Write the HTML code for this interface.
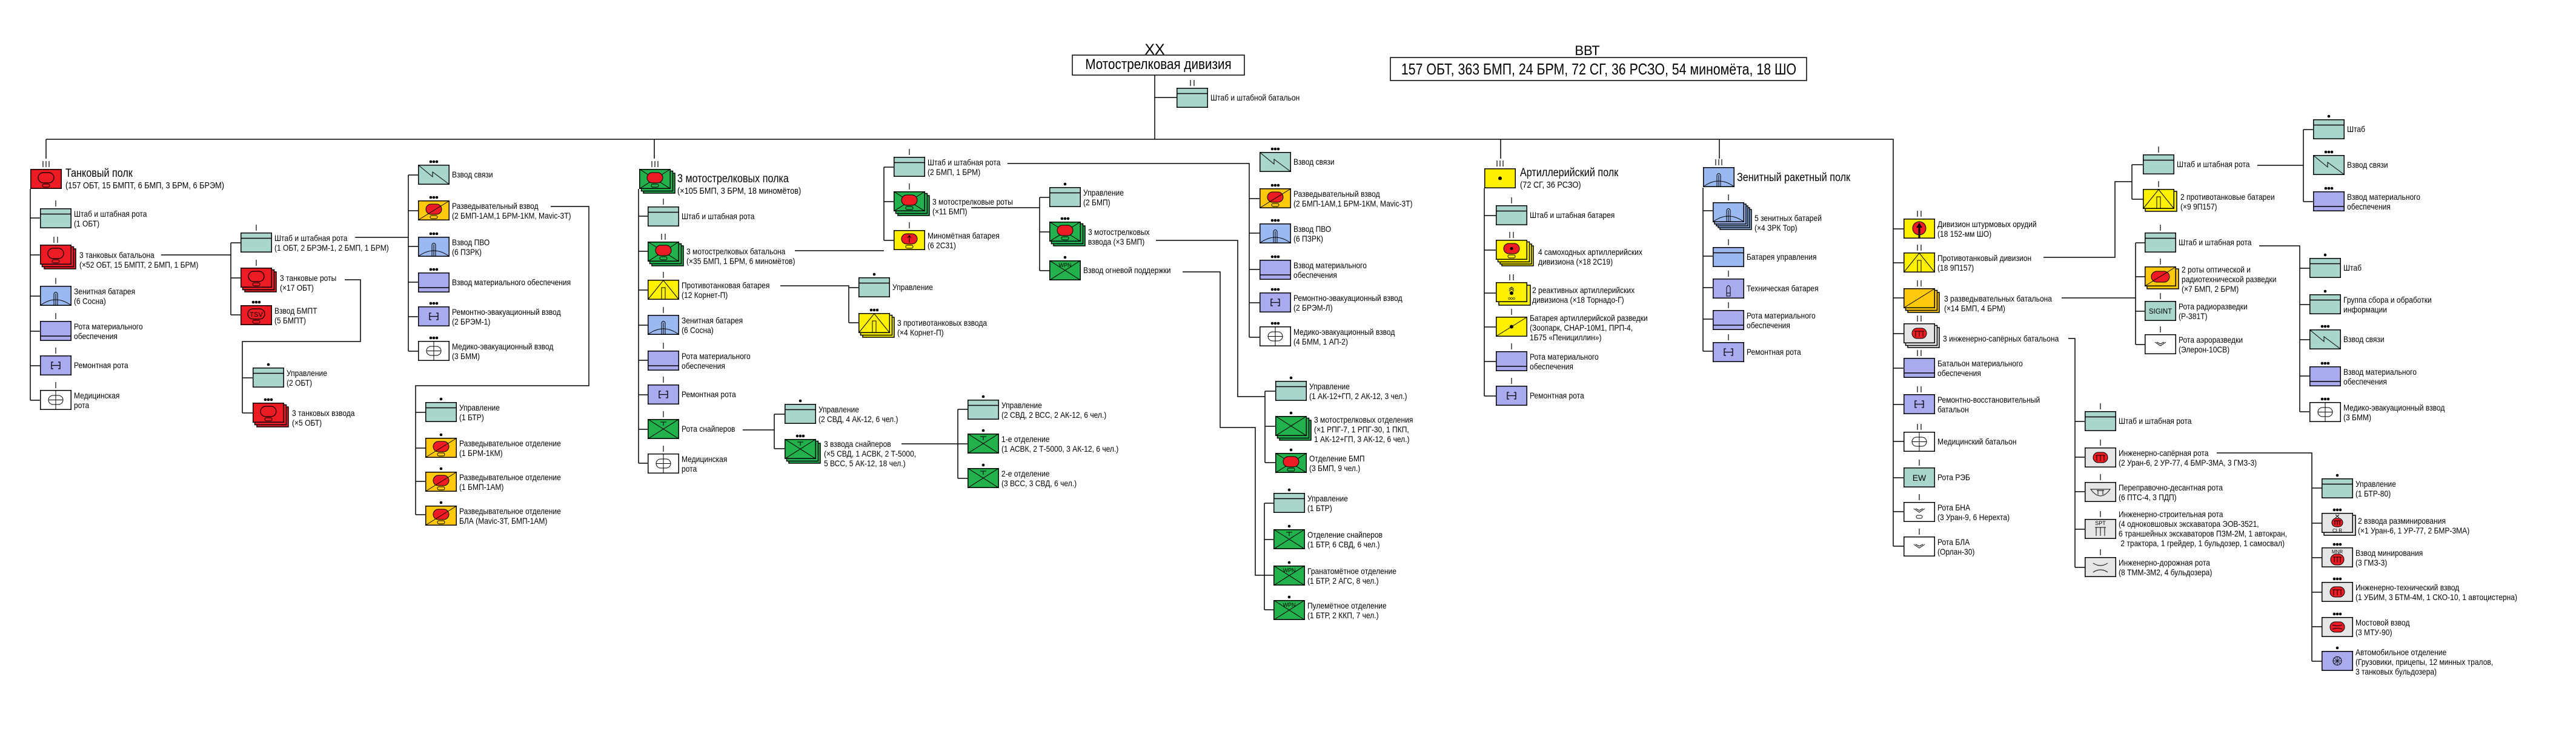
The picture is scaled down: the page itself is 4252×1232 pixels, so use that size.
<!DOCTYPE html>
<html><head><meta charset="utf-8"><style>
body{margin:0;background:#fff;}
#w{position:relative;width:4252px;height:1232px;overflow:hidden;background:#fff;font-family:"Liberation Sans","DejaVu Sans",sans-serif;color:#000;}
svg{position:absolute;left:0;top:0;}
.l{position:absolute;font-size:14px;line-height:16px;white-space:nowrap;transform:scaleX(.86);transform-origin:0 0;}
.t{position:absolute;font-size:19px;line-height:19px;white-space:nowrap;transform:scaleX(.85);transform-origin:0 0;}
.t span{font-size:15px;}
.c{position:absolute;text-align:center;white-space:nowrap;}
.cs{position:absolute;left:50%;top:0;white-space:nowrap;}
</style></head><body><div id="w">
<svg width="4252" height="1232" viewBox="0 0 4252 1232" xmlns="http://www.w3.org/2000/svg" font-family="Liberation Sans, sans-serif">
<defs>
<symbol id="hq" viewBox="0 0 52 33"><rect x=".75" y=".75" width="50.5" height="31.5" fill="#a8d5cc" stroke="#000" stroke-width="1.5"/><path d="M0 9.5H52" stroke="#000" stroke-width="1.5"/></symbol>
<symbol id="adhq" viewBox="0 0 52 33"><rect x=".75" y=".75" width="50.5" height="31.5" fill="#99b9f0" stroke="#000" stroke-width="1.5"/><path d="M0 9.5H52" stroke="#000" stroke-width="1.5"/></symbol>
<symbol id="sig" viewBox="0 0 52 33"><rect x=".75" y=".75" width="50.5" height="31.5" fill="#a8d5cc" stroke="#000" stroke-width="1.5"/><path d="M1 1L24 20V12L51 32" fill="none" stroke="#000"/></symbol>
<symbol id="tank" viewBox="0 0 52 33"><rect x=".75" y=".75" width="50.5" height="31.5" fill="#ed1c24" stroke="#000" stroke-width="1.5"/><rect x="13" y="6" width="26" height="17" rx="8.5" fill="none" stroke="#000" stroke-width="1.2"/><rect x="20" y="25" width="12" height="5" rx="2.5" fill="none" stroke="#000"/></symbol>
<symbol id="tsv" viewBox="0 0 52 33"><rect x=".75" y=".75" width="50.5" height="31.5" fill="#ed1c24" stroke="#000" stroke-width="1.5"/><rect x="12" y="6" width="28" height="17" rx="8.5" fill="none" stroke="#000" stroke-width="1.2"/><rect x="20" y="25" width="12" height="5" rx="2.5" fill="none" stroke="#000"/><text x="26" y="19" font-size="11" text-anchor="middle">TSV</text></symbol>
<symbol id="recon" viewBox="0 0 52 33"><rect x=".75" y=".75" width="50.5" height="31.5" fill="#ffc90e" stroke="#000" stroke-width="1.5"/><rect x="13" y="6" width="26" height="17" rx="8.5" fill="#ed1c24" stroke="#000"/><rect x="20" y="25" width="12" height="5" rx="2.5" fill="none" stroke="#000"/><path d="M1 32L51 1" stroke="#000"/></symbol>
<symbol id="recono" viewBox="0 0 52 33"><rect x=".75" y=".75" width="50.5" height="31.5" fill="#ffc90e" stroke="#000" stroke-width="1.5"/><rect x="11" y="8" width="30" height="18" rx="9" fill="#ed1c24" stroke="#000"/><path d="M1 32L51 1" stroke="#000"/></symbol>
<symbol id="reconp" viewBox="0 0 52 33"><rect x=".75" y=".75" width="50.5" height="31.5" fill="#ffc90e" stroke="#000" stroke-width="1.5"/><path d="M1 32L51 1" stroke="#000"/></symbol>
<symbol id="ad" viewBox="0 0 52 33"><rect x=".75" y=".75" width="50.5" height="31.5" fill="#99b9f0" stroke="#000" stroke-width="1.5"/><path d="M1 32Q26 14 51 32" fill="none" stroke="#000"/><path d="M23 32V13Q26 8 29 13V32M26 13V32" fill="none" stroke="#000"/></symbol>
<symbol id="sup" viewBox="0 0 52 33"><rect x=".75" y=".75" width="50.5" height="31.5" fill="#aaaaee" stroke="#000" stroke-width="1.5"/><path d="M0 25H52" stroke="#000" stroke-width="1.5"/></symbol>
<symbol id="rep" viewBox="0 0 52 33"><rect x=".75" y=".75" width="50.5" height="31.5" fill="#aaaaee" stroke="#000" stroke-width="1.5"/><path d="M22 11h-3v11h3M19 16.5h14M30 11h3v11h-3" fill="none" stroke="#000" stroke-width="1.3"/></symbol>
<symbol id="tech" viewBox="0 0 52 33"><rect x=".75" y=".75" width="50.5" height="31.5" fill="#aaaaee" stroke="#000" stroke-width="1.5"/><path d="M23 29V15Q26 8 29 15V29ZM23 24H29" fill="none" stroke="#000"/></symbol>
<symbol id="truck" viewBox="0 0 52 33"><rect x=".75" y=".75" width="50.5" height="31.5" fill="#aaaaee" stroke="#000" stroke-width="1.5"/><circle cx="26" cy="16.5" r="7" fill="none" stroke="#000"/><path d="M26 9.5V23.5M19 16.5H33M21 11.5L31 21.5M31 11.5L21 21.5" stroke="#000" stroke-width=".8"/></symbol>
<symbol id="med" viewBox="0 0 52 33"><rect x=".75" y=".75" width="50.5" height="31.5" fill="#fff" stroke="#000" stroke-width="1.5"/><path d="M26 0V33M14 16.5H38" stroke="#000"/><rect x="14" y="9" width="24" height="15" rx="7.5" fill="none" stroke="#000"/></symbol>
<symbol id="mr" viewBox="0 0 52 33"><rect x=".75" y=".75" width="50.5" height="31.5" fill="#22b14c" stroke="#000" stroke-width="1.5"/><path d="M0 0L52 33M52 0L0 33" stroke="#000"/><rect x="13" y="6" width="26" height="17" rx="8.5" fill="#ed1c24" stroke="#000"/><rect x="20" y="25" width="12" height="5" rx="2.5" fill="none" stroke="#000"/></symbol>
<symbol id="inf" viewBox="0 0 52 33"><rect x=".75" y=".75" width="50.5" height="31.5" fill="#22b14c" stroke="#000" stroke-width="1.5"/><path d="M0 0L52 33M52 0L0 33" stroke="#000"/></symbol>
<symbol id="snip" viewBox="0 0 52 33"><rect x=".75" y=".75" width="50.5" height="31.5" fill="#22b14c" stroke="#000" stroke-width="1.5"/><path d="M0 0L52 33M52 0L0 33M21 5H31M26 5V11" stroke="#000"/></symbol>
<symbol id="wpn" viewBox="0 0 52 33"><rect x=".75" y=".75" width="50.5" height="31.5" fill="#22b14c" stroke="#000" stroke-width="1.5"/><path d="M0 0L52 33M52 0L0 33" stroke="#000"/><text x="26" y="11" font-size="9" text-anchor="middle">WPN</text></symbol>
<symbol id="at" viewBox="0 0 52 33"><rect x=".75" y=".75" width="50.5" height="31.5" fill="#fff200" stroke="#000" stroke-width="1.5"/><path d="M1 32L26 1L51 32" fill="none" stroke="#000"/><rect x="23" y="13" width="6" height="19" fill="none" stroke="#000"/></symbol>
<symbol id="mort" viewBox="0 0 52 33"><rect x=".75" y=".75" width="50.5" height="31.5" fill="#fff200" stroke="#000" stroke-width="1.5"/><rect x="13" y="6" width="26" height="17" rx="8.5" fill="#ed1c24" stroke="#000"/><path d="M26 21V10M23 13L26 9L29 13" stroke="#000" fill="none"/><rect x="20" y="25" width="12" height="5" rx="2.5" fill="none" stroke="#000"/></symbol>
<symbol id="art" viewBox="0 0 52 33"><rect x=".75" y=".75" width="50.5" height="31.5" fill="#fff200" stroke="#000" stroke-width="1.5"/><circle cx="26" cy="16.5" r="3"/></symbol>
<symbol id="spart" viewBox="0 0 52 33"><rect x=".75" y=".75" width="50.5" height="31.5" fill="#fff200" stroke="#000" stroke-width="1.5"/><rect x="13" y="6" width="26" height="17" rx="8.5" fill="#ed1c24" stroke="#000"/><circle cx="26" cy="14.5" r="2.5"/><rect x="20" y="25" width="12" height="5" rx="2.5" fill="none" stroke="#000"/></symbol>
<symbol id="mlrs" viewBox="0 0 52 33"><rect x=".75" y=".75" width="50.5" height="31.5" fill="#fff200" stroke="#000" stroke-width="1.5"/><path d="M22 12L26 8L30 12M22 15L26 11L30 15" fill="none" stroke="#000"/><circle cx="26" cy="18" r="3"/><text x="26" y="29" font-size="7" text-anchor="middle">ooo</text></symbol>
<symbol id="artrec" viewBox="0 0 52 33"><rect x=".75" y=".75" width="50.5" height="31.5" fill="#fff200" stroke="#000" stroke-width="1.5"/><path d="M1 32L51 1" stroke="#000"/><circle cx="26" cy="16.5" r="3"/></symbol>
<symbol id="ag" viewBox="0 0 52 33"><rect x=".75" y=".75" width="50.5" height="31.5" fill="#fff200" stroke="#000" stroke-width="1.5"/><circle cx="26" cy="16" r="11" fill="#ed1c24" stroke="#000"/><path d="M26 32V13" stroke="#000" stroke-width="3"/><path d="M21 15L26 7L31 15Z"/></symbol>
<symbol id="eng" viewBox="0 0 52 33"><rect x=".75" y=".75" width="50.5" height="31.5" fill="#e6e6e6" stroke="#000" stroke-width="1.5"/><rect x="14" y="8" width="24" height="17" rx="8.5" fill="#ed1c24" stroke="#000"/><path d="M18 13H34M20 13V22M26 13V22M32 13V22" fill="none" stroke="#000"/></symbol>
<symbol id="clr" viewBox="0 0 52 33"><rect x=".75" y=".75" width="50.5" height="31.5" fill="#e6e6e6" stroke="#000" stroke-width="1.5"/><rect x="17" y="9" width="18" height="14" rx="7" fill="#ed1c24" stroke="#000"/><path d="M20 13H32M22 13V20M26 13V20M30 13V20M23 3L29 8M29 3L23 8" fill="none" stroke="#000"/><text x="26" y="32" font-size="8" text-anchor="middle">CLR</text></symbol>
<symbol id="mnr" viewBox="0 0 52 33"><rect x=".75" y=".75" width="50.5" height="31.5" fill="#e6e6e6" stroke="#000" stroke-width="1.5"/><rect x="15" y="11" width="22" height="18" rx="9" fill="#ed1c24" stroke="#000"/><path d="M19 16H33M21 16V25M26 16V25M31 16V25" fill="none" stroke="#000"/><text x="26" y="10" font-size="8" text-anchor="middle">MNR</text></symbol>
<symbol id="bridge" viewBox="0 0 52 33"><rect x=".75" y=".75" width="50.5" height="31.5" fill="#e6e6e6" stroke="#000" stroke-width="1.5"/><rect x="14" y="8" width="24" height="17" rx="8.5" fill="#ed1c24" stroke="#000"/><path d="M18 13Q26 16 34 13M18 20Q26 17 34 20" fill="none" stroke="#000"/></symbol>
<symbol id="ferry" viewBox="0 0 52 33"><rect x=".75" y=".75" width="50.5" height="31.5" fill="#e6e6e6" stroke="#000" stroke-width="1.5"/><path d="M10 12Q26 34 42 12Z" fill="none" stroke="#000"/><path d="M20 14H32M22 14V21M30 14V21" stroke="#000" fill="none"/></symbol>
<symbol id="spt" viewBox="0 0 52 33"><rect x=".75" y=".75" width="50.5" height="31.5" fill="#e6e6e6" stroke="#000" stroke-width="1.5"/><text x="26" y="10" font-size="9" text-anchor="middle">SPT</text><path d="M17 14H35M19 14V28M26 14V28M33 14V28" fill="none" stroke="#000"/></symbol>
<symbol id="road" viewBox="0 0 52 33"><rect x=".75" y=".75" width="50.5" height="31.5" fill="#e6e6e6" stroke="#000" stroke-width="1.5"/><path d="M14 10Q26 18 38 10M14 25Q26 17 38 25" fill="none" stroke="#000"/></symbol>
<symbol id="ew" viewBox="0 0 52 33"><rect x=".75" y=".75" width="50.5" height="31.5" fill="#a8d5cc" stroke="#000" stroke-width="1.5"/><text x="26" y="22" font-size="14" text-anchor="middle">EW</text></symbol>
<symbol id="sigint" viewBox="0 0 52 33"><rect x=".75" y=".75" width="50.5" height="31.5" fill="#a8d5cc" stroke="#000" stroke-width="1.5"/><text x="26" y="21" font-size="11.5" text-anchor="middle">SIGINT</text></symbol>
<symbol id="uav" viewBox="0 0 52 33"><rect x=".75" y=".75" width="50.5" height="31.5" fill="#fff" stroke="#000" stroke-width="1.5"/><path d="M17 13L26 19L35 13M20 13L26 16L32 13" fill="none" stroke="#000"/></symbol>
<symbol id="ugv" viewBox="0 0 52 33"><rect x=".75" y=".75" width="50.5" height="31.5" fill="#fff" stroke="#000" stroke-width="1.5"/><path d="M17 11L26 17L35 11M20 11L26 14L32 11" fill="none" stroke="#000"/><rect x="21" y="22" width="10" height="5" rx="2.5" fill="none" stroke="#000"/></symbol>
</defs>

<rect x="1770" y="91" width="284" height="33" fill="#fff" stroke="#000" stroke-width="1.5"/>
<rect x="2295" y="95" width="687" height="38" fill="#fff" stroke="#000" stroke-width="1.5"/>

<g fill="none" stroke="#000" stroke-width="1.5">
<path d="M1906 124V230M1906 161H1942M76 230H3125V902M76 230V262M1080 230V262M2477 230V262M2838 230V262"/>
<path d="M50 312V661M50 360H66M50 421H66M50 489H66M50 547H66M50 604H66M50 661H66"/>
<path d="M266 421H381M381 401V520M381 401H397M381 459H397M381 520H397"/>
<path d="M586 392H674M674 289V580M674 289H690M674 348H690M674 407H690M674 466H690M674 523H690M674 580H690"/>
<path d="M569 462H595V564H400V682M400 624H417M400 682H417"/>
<path d="M909 341H972V637H686V850M686 681H702M686 740H702M686 795H702M686 850H702"/>
<path d="M1054 312V765M1054 357H1069M1054 415H1069M1054 479H1069M1054 537H1069M1054 595H1069M1054 652H1069M1054 709H1069M1054 765H1069"/>
<path d="M1312 414H1459M1459 276V397M1459 276H1475M1459 333H1475M1459 397H1475"/>
<path d="M1288 472H1401V533M1401 475H1417M1401 533H1417"/>
<path d="M1226 710H1278M1278 684V741M1278 684H1295M1278 741H1295"/>
<path d="M1488 733H1581M1581 676V790M1581 676H1597M1581 733H1597M1581 790H1597"/>
<path d="M1663 270H2062V557M2062 328H2079M2062 385H2079M2062 445H2079M2062 500H2079M2062 557H2079"/>
<path d="M1603 343H1716M1716 326V447M1716 326H1732M1716 383H1732M1716 447H1732"/>
<path d="M1908 397H2043V655H2088M2088 646V764M2088 646H2105M2088 704H2105M2088 764H2105"/>
<path d="M1952 449H2014V706H2072V950H2087M2087 831V1007M2087 831H2102M2087 891H2102M2087 950H2102M2087 1007H2102"/>
<path d="M2450 311V654M2450 356H2469M2450 413H2469M2450 484H2469M2450 540H2469M2450 597H2469M2450 654H2469"/>
<path d="M2811 310V580M2811 348H2827M2811 423H2827M2811 475H2827M2811 527H2827M2811 580H2827"/>
<path d="M3125 378H3142M3125 434H3142M3125 492H3142M3125 551H3142M3125 608H3142M3125 668H3142M3125 729H3142M3125 789H3142M3125 845H3142M3125 902H3142"/>
<path d="M3373 425H3491V300H3519M3519 272V329M3519 272H3537M3519 329H3537"/>
<path d="M3726 273H3802M3802 214V333M3802 214H3818M3802 333H3818"/>
<path d="M3403 492H3525M3525 401V569M3525 401H3540M3525 457H3540M3525 514H3540M3525 569H3540"/>
<path d="M3729 406H3796V680M3796 443H3812M3796 503H3812M3796 561H3812M3796 621H3812M3796 680H3812"/>
<path d="M3414 559H3425V937M3425 696H3441M3425 755H3441M3425 812H3441M3425 874H3441M3425 937H3441"/>
<path d="M3659 748H3816V1092M3816 806H3832M3816 864H3832M3816 921H3832M3816 978H3832M3816 1035H3832M3816 1092H3832"/>
</g>

<path fill="none" stroke="#000" stroke-width="1.2" d="M1965 132V142M1971 132V142
M71 266V276M76 266V276M81 266V276M92 331V341M89 391V401M95 391V401M92 459V469M92 517V527M92 574V584M92 631V641M423 371V381M423 429V439
M1076 266V276M1081 266V276M1086 266V276M1095 328V338M1092 386V396M1098 386V396M1095 449V459M1095 507V517M1095 566V576M1095 622V632M1095 679V689M1095 736V746M1501 246V256M1501 303V313M1501 367V377
M2471 265V275M2476 265V275M2481 265V275M2495 326V336M2492 383V393M2498 383V393M2492 453V463M2498 453V463M2495 510V520M2495 567V577M2495 624V634
M2832 263V273M2837 263V273M2842 263V273M2853 321V331M2853 395V405M2853 447V457M2853 499V509M2853 552V562
M3165 348V358M3171 348V358M3165 404V414M3171 404V414M3165 463V473M3171 463V473M3165 521V531M3171 521V531M3165 578V588M3171 578V588M3165 638V648M3171 638V648M3165 700V710M3171 700V710M3168 759V769M3168 816V826M3168 873V883
M3563 242V252M3563 299V309M3566 371V381M3566 427V437M3566 484V494M3566 539V549M3467 666V676M3467 726V736M3467 783V793M3467 844V854M3467 907V917"/>
<g fill="#000">
<circle cx="418" cy="499" r="2.3"/><circle cx="423" cy="499" r="2.3"/><circle cx="428" cy="499" r="2.3"/>
<circle cx="443" cy="602" r="2.3"/>
<circle cx="438" cy="660" r="2.3"/><circle cx="443" cy="660" r="2.3"/><circle cx="448" cy="660" r="2.3"/>
<circle cx="711" cy="267" r="2.3"/><circle cx="716" cy="267" r="2.3"/><circle cx="721" cy="267" r="2.3"/>
<circle cx="711" cy="326" r="2.3"/><circle cx="716" cy="326" r="2.3"/><circle cx="721" cy="326" r="2.3"/>
<circle cx="711" cy="386" r="2.3"/><circle cx="716" cy="386" r="2.3"/><circle cx="721" cy="386" r="2.3"/>
<circle cx="711" cy="445" r="2.3"/><circle cx="716" cy="445" r="2.3"/><circle cx="721" cy="445" r="2.3"/>
<circle cx="711" cy="501" r="2.3"/><circle cx="716" cy="501" r="2.3"/><circle cx="721" cy="501" r="2.3"/>
<circle cx="711" cy="558" r="2.3"/><circle cx="716" cy="558" r="2.3"/><circle cx="721" cy="558" r="2.3"/>
<circle cx="728" cy="659" r="2.3"/><circle cx="728" cy="718" r="2.3"/><circle cx="728" cy="774" r="2.3"/><circle cx="728" cy="830" r="2.3"/>
<circle cx="1443" cy="453" r="2.3"/>
<circle cx="1438" cy="512" r="2.3"/><circle cx="1443" cy="512" r="2.3"/><circle cx="1448" cy="512" r="2.3"/>
<circle cx="1321" cy="662" r="2.3"/>
<circle cx="1316" cy="720" r="2.3"/><circle cx="1321" cy="720" r="2.3"/><circle cx="1326" cy="720" r="2.3"/>
<circle cx="1623" cy="655" r="2.3"/><circle cx="1623" cy="711" r="2.3"/><circle cx="1623" cy="768" r="2.3"/>
<circle cx="1758" cy="304" r="2.3"/>
<circle cx="1753" cy="361" r="2.3"/><circle cx="1758" cy="361" r="2.3"/><circle cx="1763" cy="361" r="2.3"/>
<circle cx="1758" cy="425" r="2.3"/>
<circle cx="2100" cy="246" r="2.3"/><circle cx="2105" cy="246" r="2.3"/><circle cx="2110" cy="246" r="2.3"/>
<circle cx="2100" cy="306" r="2.3"/><circle cx="2105" cy="306" r="2.3"/><circle cx="2110" cy="306" r="2.3"/>
<circle cx="2100" cy="364" r="2.3"/><circle cx="2105" cy="364" r="2.3"/><circle cx="2110" cy="364" r="2.3"/>
<circle cx="2100" cy="424" r="2.3"/><circle cx="2105" cy="424" r="2.3"/><circle cx="2110" cy="424" r="2.3"/>
<circle cx="2100" cy="478" r="2.3"/><circle cx="2105" cy="478" r="2.3"/><circle cx="2110" cy="478" r="2.3"/>
<circle cx="2100" cy="534" r="2.3"/><circle cx="2105" cy="534" r="2.3"/><circle cx="2110" cy="534" r="2.3"/>
<circle cx="2131" cy="624" r="2.3"/><circle cx="2131" cy="682" r="2.3"/><circle cx="2131" cy="743" r="2.3"/>
<circle cx="2128" cy="809" r="2.3"/><circle cx="2128" cy="869" r="2.3"/><circle cx="2128" cy="929" r="2.3"/><circle cx="2128" cy="986" r="2.3"/>
<circle cx="3844" cy="192" r="2.3"/>
<circle cx="3839" cy="251" r="2.3"/><circle cx="3844" cy="251" r="2.3"/><circle cx="3849" cy="251" r="2.3"/>
<circle cx="3839" cy="311" r="2.3"/><circle cx="3844" cy="311" r="2.3"/><circle cx="3849" cy="311" r="2.3"/>
<circle cx="3838" cy="421" r="2.3"/><circle cx="3838" cy="481" r="2.3"/>
<circle cx="3833" cy="539" r="2.3"/><circle cx="3838" cy="539" r="2.3"/><circle cx="3843" cy="539" r="2.3"/>
<circle cx="3833" cy="600" r="2.3"/><circle cx="3838" cy="600" r="2.3"/><circle cx="3843" cy="600" r="2.3"/>
<circle cx="3833" cy="659" r="2.3"/><circle cx="3838" cy="659" r="2.3"/><circle cx="3843" cy="659" r="2.3"/>
<circle cx="3858" cy="785" r="2.3"/>
<circle cx="3853" cy="842" r="2.3"/><circle cx="3858" cy="842" r="2.3"/><circle cx="3863" cy="842" r="2.3"/>
<circle cx="3853" cy="899" r="2.3"/><circle cx="3858" cy="899" r="2.3"/><circle cx="3863" cy="899" r="2.3"/>
<circle cx="3853" cy="956" r="2.3"/><circle cx="3858" cy="956" r="2.3"/><circle cx="3863" cy="956" r="2.3"/>
<circle cx="3853" cy="1014" r="2.3"/><circle cx="3858" cy="1014" r="2.3"/><circle cx="3863" cy="1014" r="2.3"/>
<circle cx="3858" cy="1070" r="2.3"/>
</g>

<g stroke="#000" stroke-width="1.5">
<rect x="73" y="411" width="52" height="33" fill="#ed1c24"/><rect x="69.5" y="407.5" width="52" height="33" fill="#ed1c24"/>
<rect x="404" y="449" width="52" height="33" fill="#ed1c24"/><rect x="400.5" y="445.5" width="52" height="33" fill="#ed1c24"/>
<rect x="424" y="672" width="52" height="33" fill="#ed1c24"/><rect x="420.5" y="668.5" width="52" height="33" fill="#ed1c24"/>
<rect x="1062" y="286" width="52" height="33" fill="#22b14c"/><rect x="1058.5" y="282.5" width="52" height="33" fill="#22b14c"/>
<rect x="1076" y="406" width="52" height="33" fill="#22b14c"/><rect x="1072.5" y="402.5" width="52" height="33" fill="#22b14c"/>
<rect x="1424" y="524" width="52" height="33" fill="#fff200"/><rect x="1420.5" y="520.5" width="52" height="33" fill="#fff200"/>
<rect x="1302" y="732" width="52" height="33" fill="#22b14c"/><rect x="1298.5" y="728.5" width="52" height="33" fill="#22b14c"/>
<rect x="1482" y="323" width="52" height="33" fill="#22b14c"/><rect x="1478.5" y="319.5" width="52" height="33" fill="#22b14c"/>
<rect x="1739" y="373" width="52" height="33" fill="#22b14c"/><rect x="1735.5" y="369.5" width="52" height="33" fill="#22b14c"/>
<rect x="2112" y="694" width="52" height="33" fill="#22b14c"/><rect x="2108.5" y="690.5" width="52" height="33" fill="#22b14c"/>
<rect x="2479" y="406" width="52" height="33" fill="#fff200"/><rect x="2476" y="403" width="52" height="33" fill="#fff200"/><rect x="2472.5" y="399.5" width="52" height="33" fill="#fff200"/>
<rect x="2474" y="471" width="52" height="33" fill="#fff200"/>
<rect x="2839" y="346" width="52" height="33" fill="#99b9f0"/><rect x="2836" y="343" width="52" height="33" fill="#99b9f0"/><rect x="2833" y="340" width="52" height="33" fill="#99b9f0"/><rect x="2830" y="337" width="52" height="33" fill="#99b9f0"/>
<rect x="3149" y="483" width="52" height="33" fill="#ffc90e"/><rect x="3145.5" y="479.5" width="52" height="33" fill="#ffc90e"/>
<rect x="3149" y="541" width="52" height="33" fill="#e6e6e6"/><rect x="3145.5" y="537.5" width="52" height="33" fill="#e6e6e6"/>
<rect x="3541" y="316" width="52" height="33" fill="#fff200"/>
<rect x="3544" y="444" width="52" height="33" fill="#ffc90e"/>
<rect x="3836" y="851" width="52" height="33" fill="#e6e6e6"/>
</g>

<use href="#hq" x="1942" y="145" width="52" height="33"/>
<use href="#tank" x="50" y="279" width="52" height="33"/>
<use href="#hq" x="66" y="344" width="52" height="33"/>
<use href="#tank" x="66" y="404" width="52" height="33"/>
<use href="#ad" x="66" y="472" width="52" height="33"/>
<use href="#sup" x="66" y="530" width="52" height="33"/>
<use href="#rep" x="66" y="587" width="52" height="33"/>
<use href="#med" x="66" y="644" width="52" height="33"/>
<use href="#hq" x="397" y="384" width="52" height="33"/>
<use href="#tank" x="397" y="442" width="52" height="33"/>
<use href="#tsv" x="397" y="504" width="52" height="33"/>
<use href="#hq" x="417" y="607" width="52" height="33"/>
<use href="#tank" x="417" y="665" width="52" height="33"/>
<use href="#sig" x="690" y="272" width="52" height="33"/>
<use href="#recon" x="690" y="331" width="52" height="33"/>
<use href="#ad" x="690" y="391" width="52" height="33"/>
<use href="#sup" x="690" y="450" width="52" height="33"/>
<use href="#rep" x="690" y="506" width="52" height="33"/>
<use href="#med" x="690" y="563" width="52" height="33"/>
<use href="#hq" x="702" y="664" width="52" height="33"/>
<use href="#recon" x="702" y="723" width="52" height="33"/>
<use href="#recon" x="702" y="779" width="52" height="33"/>
<use href="#recon" x="702" y="835" width="52" height="33"/>

<use href="#mr" x="1055" y="279" width="52" height="33"/>
<use href="#hq" x="1069" y="341" width="52" height="33"/>
<use href="#mr" x="1069" y="399" width="52" height="33"/>
<use href="#at" x="1069" y="462" width="52" height="33"/>
<use href="#ad" x="1069" y="520" width="52" height="33"/>
<use href="#sup" x="1069" y="579" width="52" height="33"/>
<use href="#rep" x="1069" y="635" width="52" height="33"/>
<use href="#snip" x="1069" y="692" width="52" height="33"/>
<use href="#med" x="1069" y="749" width="52" height="33"/>
<use href="#hq" x="1417" y="458" width="52" height="33"/>
<use href="#at" x="1417" y="517" width="52" height="33"/>
<use href="#hq" x="1295" y="667" width="52" height="33"/>
<use href="#snip" x="1295" y="725" width="52" height="33"/>
<use href="#hq" x="1597" y="660" width="52" height="33"/>
<use href="#snip" x="1597" y="716" width="52" height="33"/>
<use href="#snip" x="1597" y="773" width="52" height="33"/>
<use href="#hq" x="1475" y="259" width="52" height="33"/>
<use href="#mr" x="1475" y="316" width="52" height="33"/>
<use href="#mort" x="1475" y="380" width="52" height="33"/>
<use href="#hq" x="1732" y="309" width="52" height="33"/>
<use href="#mr" x="1732" y="366" width="52" height="33"/>
<use href="#wpn" x="1732" y="430" width="52" height="33"/>
<use href="#sig" x="2079" y="251" width="52" height="33"/>
<use href="#recon" x="2079" y="311" width="52" height="33"/>
<use href="#ad" x="2079" y="369" width="52" height="33"/>
<use href="#sup" x="2079" y="429" width="52" height="33"/>
<use href="#rep" x="2079" y="483" width="52" height="33"/>
<use href="#med" x="2079" y="539" width="52" height="33"/>
<use href="#hq" x="2105" y="629" width="52" height="33"/>
<use href="#inf" x="2105" y="687" width="52" height="33"/>
<use href="#mr" x="2105" y="748" width="52" height="33"/>
<use href="#hq" x="2102" y="814" width="52" height="33"/>
<use href="#snip" x="2102" y="874" width="52" height="33"/>
<use href="#wpn" x="2102" y="934" width="52" height="33"/>
<use href="#wpn" x="2102" y="991" width="52" height="33"/>

<use href="#art" x="2450" y="278" width="52" height="33"/>
<use href="#hq" x="2469" y="339" width="52" height="33"/>
<use href="#spart" x="2469" y="396" width="52" height="33"/>
<use href="#mlrs" x="2469" y="466" width="52" height="33"/>
<use href="#artrec" x="2469" y="523" width="52" height="33"/>
<use href="#sup" x="2469" y="580" width="52" height="33"/>
<use href="#rep" x="2469" y="637" width="52" height="33"/>

<use href="#ad" x="2811" y="276" width="52" height="33"/>
<use href="#ad" x="2827" y="334" width="52" height="33"/>
<use href="#adhq" x="2827" y="408" width="52" height="33"/>
<use href="#tech" x="2827" y="460" width="52" height="33"/>
<use href="#sup" x="2827" y="512" width="52" height="33"/>
<use href="#rep" x="2827" y="565" width="52" height="33"/>

<use href="#ag" x="3142" y="361" width="52" height="33"/>
<use href="#at" x="3142" y="417" width="52" height="33"/>
<use href="#reconp" x="3142" y="476" width="52" height="33"/>
<use href="#eng" x="3142" y="534" width="52" height="33"/>
<use href="#sup" x="3142" y="591" width="52" height="33"/>
<use href="#rep" x="3142" y="651" width="52" height="33"/>
<use href="#med" x="3142" y="713" width="52" height="33"/>
<use href="#ew" x="3142" y="772" width="52" height="33"/>
<use href="#ugv" x="3142" y="829" width="52" height="33"/>
<use href="#uav" x="3142" y="886" width="52" height="33"/>
<use href="#hq" x="3537" y="255" width="52" height="33"/>
<use href="#at" x="3537" y="312" width="52" height="33"/>
<use href="#hq" x="3818" y="197" width="52" height="33"/>
<use href="#sig" x="3818" y="256" width="52" height="33"/>
<use href="#sup" x="3818" y="316" width="52" height="33"/>
<use href="#hq" x="3540" y="384" width="52" height="33"/>
<use href="#recono" x="3540" y="440" width="52" height="33"/>
<use href="#sigint" x="3540" y="497" width="52" height="33"/>
<use href="#uav" x="3540" y="552" width="52" height="33"/>
<use href="#hq" x="3812" y="426" width="52" height="33"/>
<use href="#hq" x="3812" y="486" width="52" height="33"/>
<use href="#sig" x="3812" y="544" width="52" height="33"/>
<use href="#sup" x="3812" y="605" width="52" height="33"/>
<use href="#med" x="3812" y="664" width="52" height="33"/>
<use href="#hq" x="3441" y="679" width="52" height="33"/>
<use href="#eng" x="3441" y="739" width="52" height="33"/>
<use href="#ferry" x="3441" y="796" width="52" height="33"/>
<use href="#spt" x="3441" y="857" width="52" height="33"/>
<use href="#road" x="3441" y="920" width="52" height="33"/>
<use href="#hq" x="3832" y="790" width="52" height="33"/>
<use href="#clr" x="3832" y="847" width="52" height="33"/>
<use href="#mnr" x="3832" y="904" width="52" height="33"/>
<use href="#eng" x="3832" y="961" width="52" height="33"/>
<use href="#bridge" x="3832" y="1019" width="52" height="33"/>
<use href="#truck" x="3832" y="1075" width="52" height="33"/>
</svg>

<div class="c" style="left:1806px;width:200px;top:68px;font-size:25px;line-height:28px;">XX</div>
<div class="c" style="left:1770px;width:284px;height:33px;top:93px;font-size:24px;line-height:28px;"><span class="cs" style="transform:translateX(-50%) scaleX(.86);">Мотострелковая дивизия</span></div>
<div class="c" style="left:2520px;width:200px;top:71px;font-size:22px;line-height:26px;">ВВТ</div>
<div class="c" style="left:2295px;width:687px;height:38px;top:98px;font-size:26px;line-height:32px;"><span class="cs" style="transform:translateX(-50%) scaleX(.82);">157 ОБТ, 363 БМП, 24 БРМ, 72 СГ, 36 РСЗО, 54 миномёта, 18 ШО</span></div>
<div class="l" style="left:1998px;top:153px">Штаб и штабной батальон</div>

<div class="t" style="left:108px;top:277px">Танковый полк<br><span>(157 ОБТ, 15 БМПТ, 6 БМП, 3 БРМ, 6 БРЭМ)</span></div>
<div class="l" style="left:122px;top:345px">Штаб и штабная рота<br>(1 ОБТ)</div>
<div class="l" style="left:131px;top:413px">3 танковых батальона<br>(×52 ОБТ, 15 БМПТ, 2 БМП, 1 БРМ)</div>
<div class="l" style="left:122px;top:473px">Зенитная батарея<br>(6 Сосна)</div>
<div class="l" style="left:122px;top:531px">Рота материального<br>обеспечения</div>
<div class="l" style="left:122px;top:595px">Ремонтная рота</div>
<div class="l" style="left:122px;top:645px">Медицинская<br>рота</div>
<div class="l" style="left:453px;top:385px">Штаб и штабная рота<br>(1 ОБТ, 2 БРЭМ-1, 2 БМП, 1 БРМ)</div>
<div class="l" style="left:462px;top:451px">3 танковые роты<br>(×17 ОБТ)</div>
<div class="l" style="left:453px;top:505px">Взвод БМПТ<br>(5 БМПТ)</div>
<div class="l" style="left:473px;top:608px">Управление<br>(2 ОБТ)</div>
<div class="l" style="left:482px;top:674px">3 танковых взвода<br>(×5 ОБТ)</div>
<div class="l" style="left:746px;top:280px">Взвод связи</div>
<div class="l" style="left:746px;top:332px">Разведывательный взвод<br>(2 БМП-1АМ,1 БРМ-1КМ, Mavic-3T)</div>
<div class="l" style="left:746px;top:392px">Взвод ПВО<br>(6 ПЗРК)</div>
<div class="l" style="left:746px;top:458px">Взвод материального обеспечения</div>
<div class="l" style="left:746px;top:507px">Ремонтно-эвакуационный взвод<br>(2 БРЭМ-1)</div>
<div class="l" style="left:746px;top:564px">Медико-эвакуационный взвод<br>(3 БММ)</div>
<div class="l" style="left:758px;top:665px">Управление<br>(1 БТР)</div>
<div class="l" style="left:758px;top:724px">Разведывательное отделение<br>(1 БРМ-1КМ)</div>
<div class="l" style="left:758px;top:780px">Разведывательное отделение<br>(1 БМП-1АМ)</div>
<div class="l" style="left:758px;top:836px">Разведывательное отделение<br>БЛА (Mavic-3T, БМП-1АМ)</div>

<div class="t" style="left:1118px;top:286px">3 мотострелковых полка<br><span>(×105 БМП, 3 БРМ, 18 миномётов)</span></div>
<div class="l" style="left:1125px;top:349px">Штаб и штабная рота</div>
<div class="l" style="left:1133px;top:407px">3 мотострелковых батальона<br>(×35 БМП, 1 БРМ, 6 миномётов)</div>
<div class="l" style="left:1125px;top:463px">Противотанковая батарея<br>(12 Корнет-П)</div>
<div class="l" style="left:1125px;top:521px">Зенитная батарея<br>(6 Сосна)</div>
<div class="l" style="left:1125px;top:580px">Рота материального<br>обеспечения</div>
<div class="l" style="left:1125px;top:643px">Ремонтная рота</div>
<div class="l" style="left:1125px;top:700px">Рота снайперов</div>
<div class="l" style="left:1125px;top:750px">Медицинская<br>рота</div>
<div class="l" style="left:1473px;top:466px">Управление</div>
<div class="l" style="left:1481px;top:525px">3 противотанковых взвода<br>(×4 Корнет-П)</div>
<div class="l" style="left:1351px;top:668px">Управление<br>(2 СВД, 4 АК-12, 6 чел.)</div>
<div class="l" style="left:1360px;top:725px">3 взвода снайперов<br>(×5 СВД, 1 АСВК, 2 Т-5000,<br>5 ВСС, 5 АК-12, 18 чел.)</div>
<div class="l" style="left:1653px;top:661px">Управление<br>(2 СВД, 2 ВСС, 2 АК-12, 6 чел.)</div>
<div class="l" style="left:1653px;top:717px">1-е отделение<br>(1 АСВК, 2 Т-5000, 3 АК-12, 6 чел.)</div>
<div class="l" style="left:1653px;top:774px">2-е отделение<br>(3 ВСС, 3 СВД, 6 чел.)</div>
<div class="l" style="left:1531px;top:260px">Штаб и штабная рота<br>(2 БМП, 1 БРМ)</div>
<div class="l" style="left:1539px;top:325px">3 мотострелковые роты<br>(×11 БМП)</div>
<div class="l" style="left:1531px;top:381px">Миномётная батарея<br>(6 2С31)</div>
<div class="l" style="left:1788px;top:310px">Управление<br>(2 БМП)</div>
<div class="l" style="left:1796px;top:375px">3 мотострелковых<br>взвода (×3 БМП)</div>
<div class="l" style="left:1788px;top:438px">Взвод огневой поддержки</div>
<div class="l" style="left:2135px;top:259px">Взвод связи</div>
<div class="l" style="left:2135px;top:312px">Разведывательный взвод<br>(2 БМП-1АМ,1 БРМ-1КМ, Mavic-3T)</div>
<div class="l" style="left:2135px;top:370px">Взвод ПВО<br>(6 ПЗРК)</div>
<div class="l" style="left:2135px;top:430px">Взвод материального<br>обеспечения</div>
<div class="l" style="left:2135px;top:484px">Ремонтно-эвакуационный взвод<br>(2 БРЭМ-Л)</div>
<div class="l" style="left:2135px;top:540px">Медико-эвакуационный взвод<br>(4 БММ, 1 АП-2)</div>
<div class="l" style="left:2161px;top:630px">Управление<br>(1 АК-12+ГП, 2 АК-12, 3 чел.)</div>
<div class="l" style="left:2169px;top:685px">3 мотострелковых отделения<br>(×1 РПГ-7, 1 РПГ-30, 1 ПКП,<br>1 АК-12+ГП, 3 АК-12, 6 чел.)</div>
<div class="l" style="left:2161px;top:749px">Отделение БМП<br>(3 БМП, 9 чел.)</div>
<div class="l" style="left:2158px;top:815px">Управление<br>(1 БТР)</div>
<div class="l" style="left:2158px;top:875px">Отделение снайперов<br>(1 БТР, 6 СВД, 6 чел.)</div>
<div class="l" style="left:2158px;top:935px">Гранатомётное отделение<br>(1 БТР, 2 АГС, 8 чел.)</div>
<div class="l" style="left:2158px;top:992px">Пулемётное отделение<br>(1 БТР, 2 ККП, 7 чел.)</div>

<div class="t" style="left:2509px;top:276px">Артиллерийский полк<br><span>(72 СГ, 36 РСЗО)</span></div>
<div class="l" style="left:2525px;top:347px">Штаб и штабная батарея</div>
<div class="l" style="left:2539px;top:408px">4 самоходных артиллерийских<br>дивизиона (×18 2С19)</div>
<div class="l" style="left:2529px;top:471px">2 реактивных артиллерийских<br>дивизиона (×18 Торнадо-Г)</div>
<div class="l" style="left:2525px;top:517px">Батарея артиллерийской разведки<br>(Зоопарк, СНАР-10М1, ПРП-4,<br>1Б75 «Пенициллин»)</div>
<div class="l" style="left:2525px;top:581px">Рота материального<br>обеспечения</div>
<div class="l" style="left:2525px;top:645px">Ремонтная рота</div>

<div class="t" style="left:2867px;top:284px">Зенитный ракетный полк</div>
<div class="l" style="left:2896px;top:352px">5 зенитных батарей<br>(×4 ЗРК Тор)</div>
<div class="l" style="left:2883px;top:416px">Батарея управления</div>
<div class="l" style="left:2883px;top:468px">Техническая батарея</div>
<div class="l" style="left:2883px;top:513px">Рота материального<br>обеспечения</div>
<div class="l" style="left:2883px;top:573px">Ремонтная рота</div>

<div class="l" style="left:3198px;top:362px">Дивизион штурмовых орудий<br>(18 152-мм ШО)</div>
<div class="l" style="left:3198px;top:418px">Противотанковый дивизион<br>(18 9П157)</div>
<div class="l" style="left:3209px;top:485px">3 разведывательных батальона<br>(×14 БМП, 4 БРМ)</div>
<div class="l" style="left:3207px;top:551px">3 инженерно-сапёрных батальона</div>
<div class="l" style="left:3198px;top:592px">Батальон материального<br>обеспечения</div>
<div class="l" style="left:3198px;top:652px">Ремонтно-восстановительный<br>батальон</div>
<div class="l" style="left:3198px;top:721px">Медицинский батальон</div>
<div class="l" style="left:3198px;top:780px">Рота РЭБ</div>
<div class="l" style="left:3198px;top:830px">Рота БНА<br>(3 Уран-9, 6 Нерехта)</div>
<div class="l" style="left:3198px;top:887px">Рота БЛА<br>(Орлан-30)</div>
<div class="l" style="left:3593px;top:263px">Штаб и штабная рота</div>
<div class="l" style="left:3599px;top:317px">2 противотанковые батареи<br>(×9 9П157)</div>
<div class="l" style="left:3874px;top:205px">Штаб</div>
<div class="l" style="left:3874px;top:264px">Взвод связи</div>
<div class="l" style="left:3874px;top:317px">Взвод материального<br>обеспечения</div>
<div class="l" style="left:3596px;top:392px">Штаб и штабная рота</div>
<div class="l" style="left:3601px;top:437px">2 роты оптической и<br>радиотехнической разведки<br>(×7 БМП, 2 БРМ)</div>
<div class="l" style="left:3596px;top:498px">Рота радиоразведки<br>(Р-381Т)</div>
<div class="l" style="left:3596px;top:553px">Рота аэроразведки<br>(Элерон-10СВ)</div>
<div class="l" style="left:3868px;top:434px">Штаб</div>
<div class="l" style="left:3868px;top:487px">Группа сбора и обработки<br>информации</div>
<div class="l" style="left:3868px;top:552px">Взвод связи</div>
<div class="l" style="left:3868px;top:606px">Взвод материального<br>обеспечения</div>
<div class="l" style="left:3868px;top:665px">Медико-эвакуационный взвод<br>(3 БММ)</div>
<div class="l" style="left:3497px;top:687px">Штаб и штабная рота</div>
<div class="l" style="left:3497px;top:740px">Инженерно-сапёрная рота<br>(2 Уран-6, 2 УР-77, 4 БМР-3МА, 3 ГМЗ-3)</div>
<div class="l" style="left:3497px;top:797px">Переправочно-десантная рота<br>(6 ПТС-4, 3 ПДП)</div>
<div class="l" style="left:3497px;top:841px">Инженерно-строительная рота<br>(4 одноковшовых экскаватора ЭОВ-3521,<br>6 траншейных экскаваторов ПЗМ-2М, 1 автокран,<br>&nbsp;2 трактора, 1 грейдер, 1 бульдозер, 1 самосвал)</div>
<div class="l" style="left:3497px;top:921px">Инженерно-дорожная рота<br>(8 ТММ-3М2, 4 бульдозера)</div>
<div class="l" style="left:3888px;top:791px">Управление<br>(1 БТР-80)</div>
<div class="l" style="left:3892px;top:852px">2 взвода разминирования<br>(×1 Уран-6, 1 УР-77, 2 БМР-3МА)</div>
<div class="l" style="left:3888px;top:905px">Взвод минирования<br>(3 ГМЗ-3)</div>
<div class="l" style="left:3888px;top:962px">Инженерно-технический взвод<br>(1 УБИМ, 3 БТМ-4М, 1 СКО-10, 1 автоцистерна)</div>
<div class="l" style="left:3888px;top:1020px">Мостовой взвод<br>(3 МТУ-90)</div>
<div class="l" style="left:3888px;top:1069px">Автомобильное отделение<br>(Грузовики, прицепы, 12 минных тралов,<br>3 танковых бульдозера)</div>
</div></body></html>
